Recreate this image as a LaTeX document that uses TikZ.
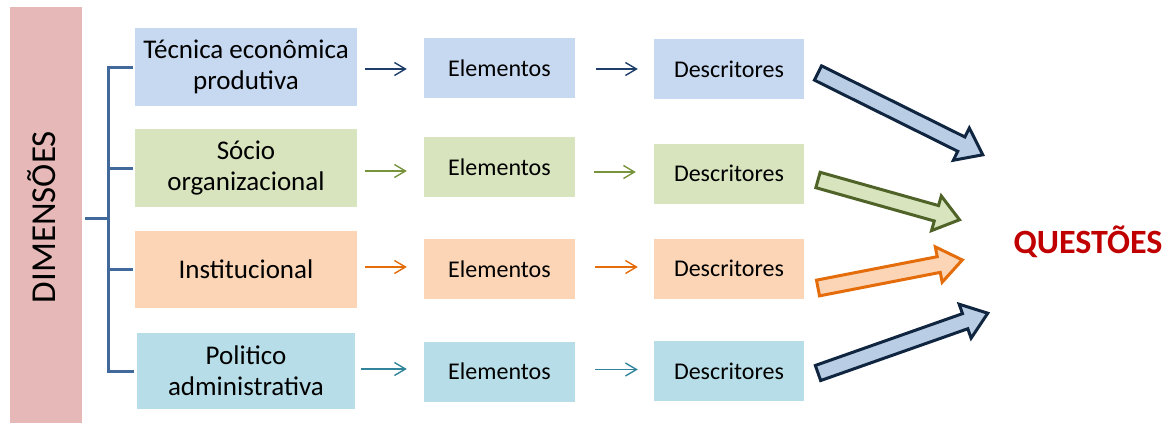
\documentclass[tikz,border=0pt]{standalone}
\usepackage{fontspec}
\setmainfont{Carlito}
\usetikzlibrary{arrows.meta,calc}
\definecolor{pinkbar}{HTML}{E6B9B8}
\definecolor{bluebox}{HTML}{C6D9F1}
\definecolor{greenbox}{HTML}{D7E4BD}
\definecolor{orangebox}{HTML}{FBD5B5}
\definecolor{tealbox}{HTML}{B7DEE8}
\definecolor{bracketc}{HTML}{41699C}
\definecolor{navyline}{HTML}{1F3F6A}
\definecolor{greenline}{HTML}{77933C}
\definecolor{orangeline}{HTML}{E46C0A}
\definecolor{tealline}{HTML}{31849B}
\definecolor{bigblue}{HTML}{B9CDE5}
\definecolor{bigblueline}{HTML}{10253F}
\definecolor{biggreenline}{HTML}{4F6228}
\definecolor{qred}{HTML}{C00000}
\tikzset{
  dimbar/.style={rectangle, fill=pinkbar, inner sep=0pt, minimum width=72pt, minimum height=416pt},
  dimlabel/.style={font=\fontsize{35}{40}\selectfont, rotate=90, anchor=base, inner sep=0pt},
  dimbox/.style={rectangle, inner sep=0pt, minimum width=222pt, minimum height=78pt, align=center, font=\fontsize{27}{31}\selectfont},
  smallbox/.style={rectangle, inner sep=0pt, minimum height=60pt, font=\fontsize{24}{28}\selectfont},
  elbox/.style={smallbox, minimum width=151pt},
  descbox/.style={smallbox, minimum width=150pt},
  bracketline/.style={draw=bracketc, line width=3pt},
  flowarrow/.style={line width=1.4pt, -{Straight Barb[length=11pt,width=13pt,line width=1.4pt]}},
  bigarrow/.style={line width=3pt, line join=miter},
}
\newcommand{\blockarrowshape}[1]{%
  (0,-8) -- (#1-24,-8) -- (#1-24,-18) -- (#1,0) -- (#1-24,18) -- (#1-24,8) -- (0,8) -- cycle}
\begin{document}
\begin{tikzpicture}[x=1pt,y=-1pt]
\useasboundingbox (0,0) rectangle (1173,423);

% left bar
\node[dimbar] (dim) at (46,215) {};
\node[dimlabel] (dimtext) at (55,217) {DIMENSÕES};

% first column
\node[dimbox, fill=bluebox] (c1) at (246,67) {Técnica econômica\\produtiva};
\node[dimbox, fill=greenbox] (c2) at (246,168) {Sócio\\organizacional};
\node[dimbox, fill=orangebox, minimum height=77pt] (c3) at (246,269.5) {Institucional};
\node[dimbox, fill=tealbox, minimum width=218pt, minimum height=76pt] (c4) at (246,371) {Politico\\administrativa};

% Elementos
\node[elbox, fill=bluebox] (e1) at (499.5,68) {Elementos};
\node[elbox, fill=greenbox] (e2) at (499.5,167) {Elementos};
\node[elbox, fill=orangebox] (e3) at (499.5,269) {Elementos};
\node[elbox, fill=tealbox] (e4) at (499.5,371.5) {Elementos};

% Descritores
\node[descbox, fill=bluebox] (d1) at (729,69) {Descritores};
\node[descbox, fill=greenbox] (d2) at (729,173.5) {Descritores};
\node[descbox, fill=orangebox] (d3) at (729,268.5) {Descritores};
\node[descbox, fill=tealbox] (d4) at (729,371) {Descritores};

% bracket
\coordinate (bj) at (108,218);
\draw[bracketline] ([xshift=-2pt]c1.west) -| (bj |- c4.west) -- ([xshift=-3pt]c4.west);
\draw[bracketline] (bj |- c2.west) -- ([xshift=-2pt]c2.west);
\draw[bracketline] (bj |- c3.west) -- ([xshift=-2pt]c3.west);
\draw[bracketline] ([xshift=3pt]dim.east |- bj) -- (bj);

% small arrows
\draw[flowarrow, navyline, shorten <=8pt, shorten >=17pt] ([yshift=-2pt]c1.east) -- ([yshift=-2pt]c1.east -| e1.west);
\draw[flowarrow, navyline, shorten <=21pt, shorten >=16pt] ([yshift=-1pt]e1.east) -- ([yshift=-1pt]e1.east -| d1.west);
\draw[flowarrow, greenline, shorten <=8pt, shorten >=17pt] ([yshift=-3pt]c2.east) -- ([yshift=-3pt]c2.east -| e2.west);
\draw[flowarrow, greenline, shorten <=19pt, shorten >=18pt] ([yshift=-5pt]e2.east) -- ([yshift=-5pt]e2.east -| d2.west);
\draw[flowarrow, orangeline, shorten <=8pt, shorten >=17pt] ([yshift=2.5pt]c3.east) -- ([yshift=2.5pt]c3.east -| e3.west);
\draw[flowarrow, orangeline, shorten <=20pt, shorten >=16pt] ([yshift=2pt]e3.east) -- ([yshift=2pt]e3.east -| d3.west);
\draw[flowarrow, tealline, shorten <=6pt, shorten >=17pt] ([yshift=2pt]c4.east) -- ([yshift=2pt]c4.east -| e4.west);
\draw[flowarrow, tealline, shorten <=20pt, shorten >=16pt] ([yshift=2pt]e4.east) -- ([yshift=2pt]e4.east -| d4.west);

% QUESTÕES
\node[anchor=base, font=\fontsize{34}{38}\selectfont\bfseries, text=qred, inner sep=0pt] (q) at (1088,253) {QUESTÕES};

% big block arrows
\coordinate (t1) at (818,73);
\coordinate (t2) at (818,180);
\coordinate (t3) at (818,288);
\coordinate (t4) at (818,373);
\begin{scope}[shift={(t1)}, rotate=-26.4]
  \draw[bigarrow, fill=bigblue, draw=bigblueline] \blockarrowshape{184};
\end{scope}
\begin{scope}[shift={(t2)}, rotate=-15.7]
  \draw[bigarrow, fill=greenbox, draw=biggreenline] \blockarrowshape{147};
\end{scope}
\begin{scope}[shift={(t3)}, rotate=11.0]
  \draw[bigarrow, fill=orangebox, draw=orangeline] \blockarrowshape{147};
\end{scope}
\begin{scope}[shift={(t4)}, rotate=19.4]
  \draw[bigarrow, fill=bigblue, draw=bigblueline] \blockarrowshape{180};
\end{scope}
\end{tikzpicture}
\end{document}
